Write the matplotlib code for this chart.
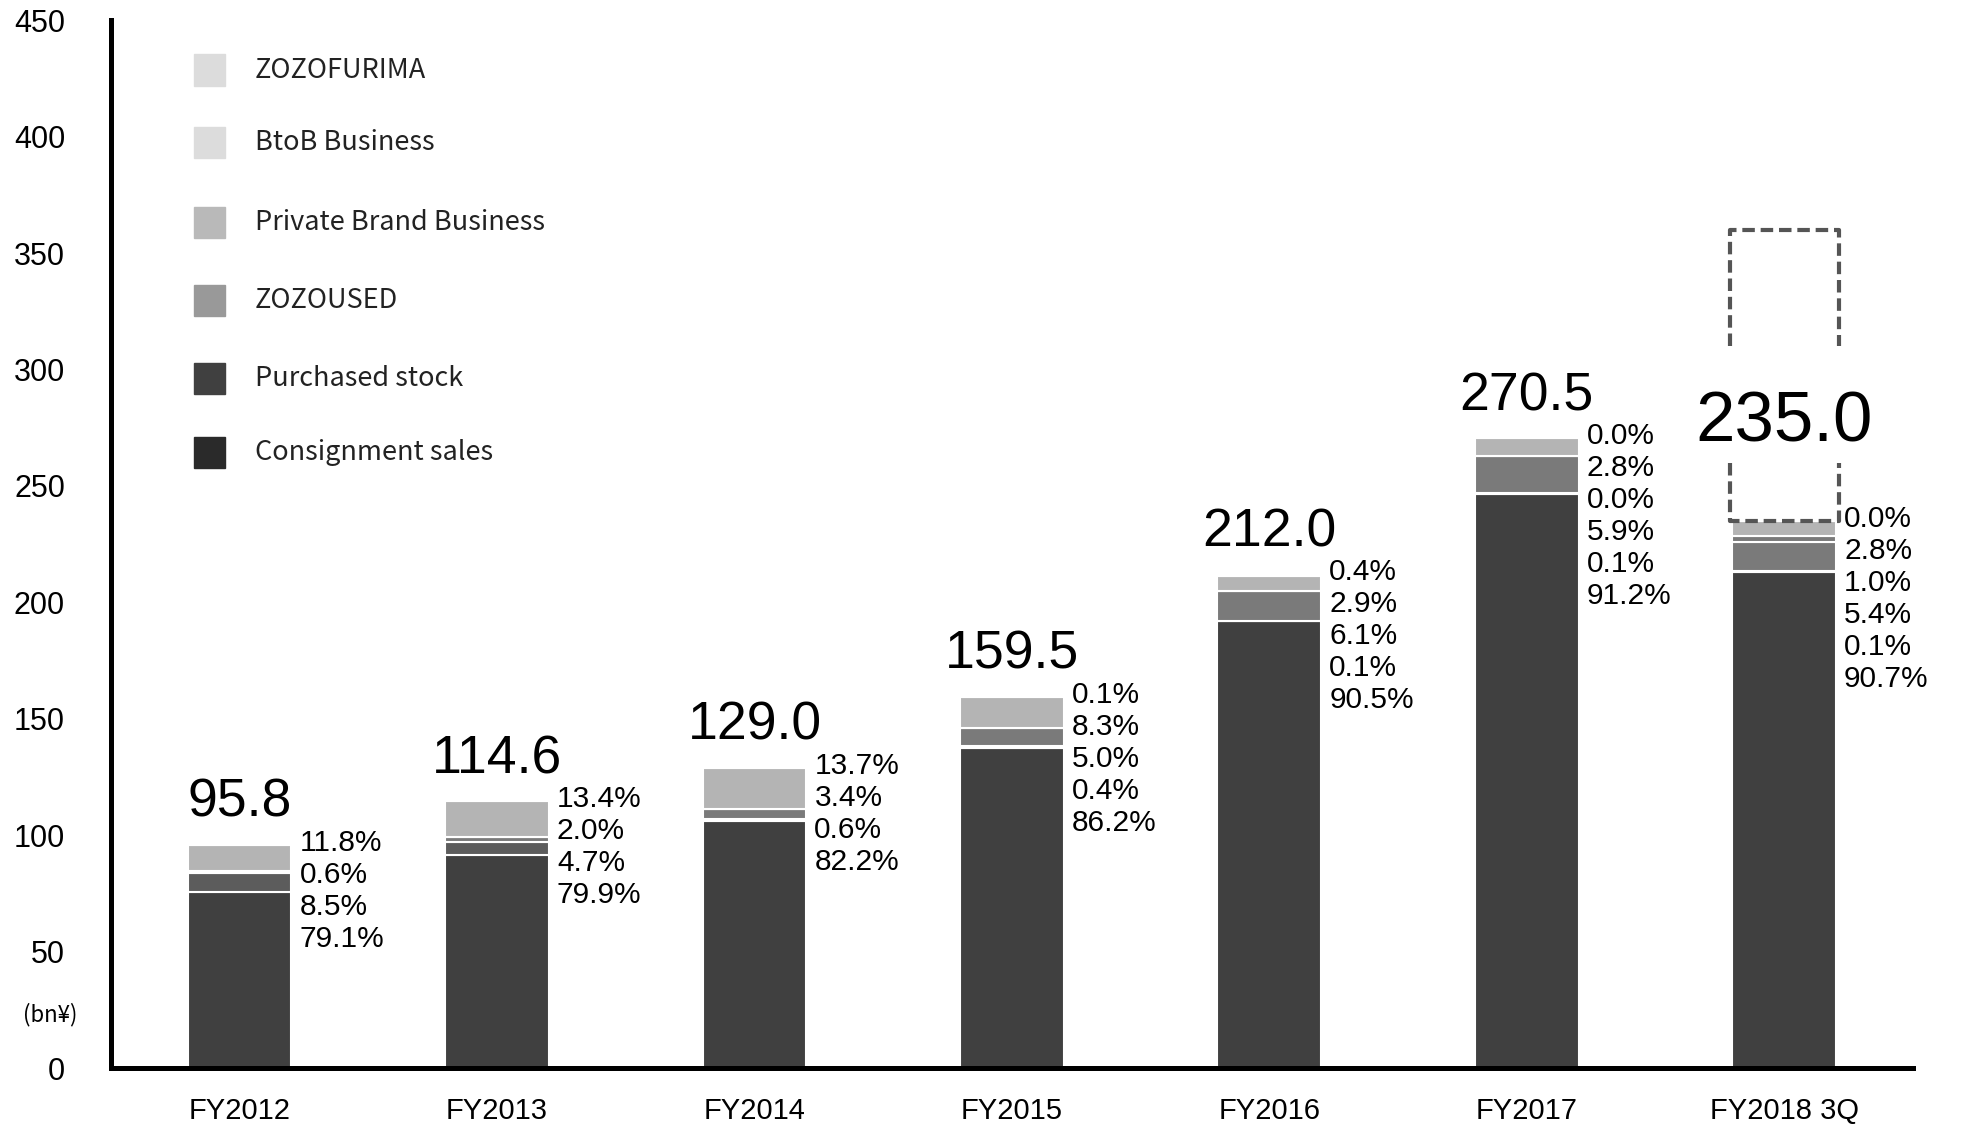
import matplotlib
matplotlib.use("Agg")
import matplotlib.pyplot as plt
from matplotlib.patches import Rectangle
import numpy as np

years = ["FY2012", "FY2013", "FY2014", "FY2015", "FY2016", "FY2017", "FY2018 3Q"]
totals = [95.8, 114.6, 129.0, 159.5, 212.0, 270.5, 235.0]
forecast = 360.0  # full-year target shown as dashed outline on the last bar

# share of total (%) per business, nan where the business did not report
furima = [np.nan, np.nan, np.nan, 0.1, 0.4, 0.0, 0.0]
btob = [11.8, 13.4, 13.7, 8.3, 2.9, 2.8, 2.8]
private_brand = [np.nan, np.nan, np.nan, np.nan, np.nan, 0.0, 1.0]
zozoused = [0.6, 2.0, 3.4, 5.0, 6.1, 5.9, 5.4]
purchased = [8.5, 4.7, 0.6, 0.4, 0.1, 0.1, 0.1]
consignment = [79.1, 79.9, 82.2, 86.2, 90.5, 91.2, 90.7]

legend_names = ["ZOZOFURIMA", "BtoB Business", "Private Brand Business",
                "ZOZOUSED", "Purchased stock", "Consignment sales"]
shares = [furima, btob, private_brand, zozoused, purchased, consignment]
bar_colors = ["#e8e8e8", "#b4b4b4", "#7a7a7a", "#7a7a7a", "#5c5c5c", "#404040"]
legend_colors = ["#dcdcdc", "#dcdcdc", "#b9b9b9", "#999999", "#404040", "#2a2a2a"]

NUM = "Liberation Sans"
JP = ["Noto Sans CJK JP", "DejaVu Sans"]

fig = plt.figure(figsize=(19.63, 11.26), dpi=100)
ax = fig.add_axes([0.0565, 0.0515, 0.918, 0.9305])

x = np.arange(len(years))
width = 0.403
tot = np.array(totals)

# stack bottom-up: consignment first, ZOZOFURIMA last
bottom = np.zeros(len(years))
for share, color in zip(shares[::-1], bar_colors[::-1]):
    vals = np.nan_to_num(np.array(share, dtype=float)) * tot / 100
    ax.bar(x, vals, width, bottom=bottom, color=color, edgecolor="white",
           linewidth=1.5, zorder=2)
    bottom += vals

# percentage labels to the right of each bar, top-down in legend order
for i in range(len(years)):
    labels = [s[i] for s in shares if not np.isnan(s[i])]
    for j, v in enumerate(labels):
        ax.annotate(f"{v:.1f}%", xy=(x[i] + width / 2, totals[i]),
                    xytext=(8, 2 - j * 32), textcoords="offset pixels",
                    ha="left", va="center", fontsize=21.5, family=NUM)

# totals above bars
for i, t in enumerate(totals):
    last = i == len(totals) - 1
    ax.annotate(f"{t:.1f}", xy=(x[i], t), xytext=(0, 79 if last else 28),
                textcoords="offset pixels", ha="center", va="baseline",
                fontsize=51 if last else 38.5, family=NUM)

# dashed outline of the full-year target, broken around the 3Q label
xl, xr = x[-1] - width / 2 - 0.01, x[-1] + width / 2 + 0.01
dash = dict(color="#555555", lw=3, ls=(0, (3, 1.4)), zorder=3, solid_capstyle="butt")
ax.plot([xl, xl, xr, xr], [310, forecast, forecast, 310], **dash)
ax.plot([xl, xl, xr, xr], [260, totals[-1], totals[-1], 260], **dash)

ax.set_xlim(-0.5, 6.5)
ax.set_ylim(0, 450)
ax.set_yticks(np.arange(0, 451, 50))
ax.set_xticks(x)
ax.set_xticklabels(years, family=NUM, fontsize=21)
for lab in ax.get_yticklabels():
    lab.set_family(NUM)
    lab.set_fontsize(22)
ax.tick_params(axis="both", length=0)
ax.tick_params(axis="y", pad=33)
ax.tick_params(axis="x", pad=21)
for side in ["top", "right"]:
    ax.spines[side].set_visible(False)
for side in ["left", "bottom"]:
    ax.spines[side].set_linewidth(3.6)
    ax.spines[side].set_color("black")

fig.text(23 / 1963, 1 - 1015 / 1126, "(bn¥)", fontsize=16, family=JP,
         va="center", ha="left")

# legend drawn by hand so rows keep their uneven spacing
rows_px = [70, 142, 222, 301, 379, 453]
for name, color, ypx in zip(legend_names, legend_colors, rows_px):
    yf = 1 - ypx / 1126
    fig.patches.append(Rectangle((194 / 1963, yf - 15.5 / 1126), 31 / 1963, 31 / 1126,
                                 transform=fig.transFigure, color=color))
    fig.text(255 / 1963, yf, name, fontsize=19.5, family=JP, color="#222222",
             va="center", ha="left")

fig.savefig("out.png", dpi=100)
